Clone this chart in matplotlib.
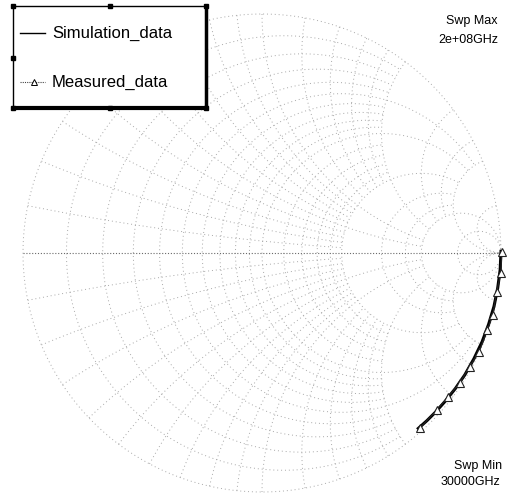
import numpy as np
import matplotlib
matplotlib.use("Agg")
import matplotlib.pyplot as plt
from matplotlib.patches import Rectangle
from matplotlib.lines import Line2D

plt.rcParams['font.family'] = ['Liberation Sans', 'DejaVu Sans']

# Reflection coefficient, polar form (magnitude, angle in degrees)
sim_mag = [1.000, 0.999, 0.997, 0.996, 0.994, 0.993, 0.991, 0.990, 0.988, 0.986, 0.985, 0.984, 0.983]
sim_ang = [0.4, -4.0, -8.5, -13.0, -17.5, -22.0, -26.5, -31.0, -35.0, -39.0, -42.5, -45.5, -48.3]

meas_mag = [1.003, 1.003, 0.995, 1.000, 0.996, 0.998, 0.990, 0.990, 0.984, 0.983, 0.986]
meas_ang = [0.3, -4.8, -9.4, -15.0, -18.9, -24.4, -28.7, -33.3, -37.7, -41.9, -47.9]

legend_labels = ["Simulation_data", "Measured_data"]
sweep_max = ["Swp Max", "2e+08GHz"]
sweep_min = ["Swp Min", "30000GHz"]

W, H = 512, 497
cx, cy, R = 262.0, 253.0, 239.0   # chart centre / radius in pixels

fig = plt.figure(figsize=(W / 100, H / 100), dpi=100)
ax = fig.add_axes([0, 0, 1, 1])
ax.set_xlim(-cx / R, (W - cx) / R)
ax.set_ylim(-(H - cy) / R, cy / R)
ax.axis('off')

GRID = dict(color='#a8a8a8', lw=0.7, linestyle=(0, (1, 3.0)), zorder=1)


def gamma(z):
    return (z - 1) / (z + 1)


def r_circle(r, xmax):
    if np.isinf(xmax):
        t = np.linspace(-np.pi / 2 + 1e-4, np.pi / 2 - 1e-4, 600)
    else:
        a = np.arctan(xmax)
        t = np.linspace(-a, a, 400)
    g = gamma(r + 1j * np.tan(t))
    ax.plot(g.real, g.imag, **GRID)


def x_arc(x, rmax):
    a = np.pi / 2 - 1e-4 if np.isinf(rmax) else np.arctan(rmax)
    t = np.linspace(0, a, 400)
    g = gamma(np.tan(t) + 1j * x)
    ax.plot(g.real, g.imag, **GRID)


# resistance circles
for r in [0.1, 0.2, 0.3, 0.4, 0.6, 0.7, 0.8, 0.9]:
    r_circle(r, 2.0)
for r in [1.2, 1.4, 1.6, 1.8]:
    r_circle(r, 2.0)
for r in [0.5, 1.0, 2.0, 3.0, 4.0]:
    r_circle(r, 5.0)
for r in [5.0, 10.0]:
    r_circle(r, np.inf)

# reactance arcs
for x in [0.1, 0.2, 0.3, 0.4, 0.6, 0.7, 0.8, 0.9, 1.2, 1.4, 1.6, 1.8]:
    x_arc(x, 2.0)
    x_arc(-x, 2.0)
for x in [0.5, 1.0, 2.0, 3.0, 4.0]:
    x_arc(x, 5.0)
    x_arc(-x, 5.0)
for x in [5.0, 10.0]:
    x_arc(x, np.inf)
    x_arc(-x, np.inf)

# outer circle and real axis
th = np.linspace(0, 2 * np.pi, 800)
ax.plot(np.cos(th), np.sin(th), **GRID)
ax.plot([-1, 1], [0, 0], color='#6a6a6a', lw=0.8, linestyle=(0, (1, 1.6)), zorder=1)

# data traces
gs = np.array(sim_mag) * np.exp(1j * np.deg2rad(sim_ang))
gm = np.array(meas_mag) * np.exp(1j * np.deg2rad(meas_ang))
ax.plot(gs.real, gs.imag, color='black', lw=2.2, zorder=3)
ax.plot(gm.real, gm.imag, color='#222222', lw=0.9, marker='^', markersize=5.5,
        markerfacecolor='white', markeredgecolor='#222222', markeredgewidth=0.8, zorder=4)

# overlay in pixel coordinates for legend and sweep labels
ov = fig.add_axes([0, 0, 1, 1])
ov.set_xlim(0, W)
ov.set_ylim(H, 0)
ov.axis('off')
ov.patch.set_alpha(0)

ov.add_patch(Rectangle((13, 6), 193, 102, facecolor='white', edgecolor='black', lw=1.0, zorder=5))
ov.plot([13, 206], [108, 108], color='black', lw=3.0, zorder=6, solid_capstyle='butt')
ov.plot([206, 206], [6, 108], color='black', lw=2.5, zorder=6, solid_capstyle='butt')
for hx, hy in [(13, 6), (110, 6), (206, 6), (13, 58), (13, 108), (206, 108), (110, 108)]:
    ov.plot(hx, hy, marker='s', markersize=3, color='black', zorder=7)

ov.add_line(Line2D([20, 45], [33, 33], color='black', lw=1.0, zorder=7))
ov.add_line(Line2D([20, 45], [82, 82], color='#444444', lw=0.8, linestyle=(0, (1, 1)), zorder=7))
ov.plot(34, 82, marker='^', markersize=5, markerfacecolor='white',
        markeredgecolor='black', markeredgewidth=0.7, zorder=8)
ov.text(52, 33, legend_labels[0], fontsize=12, va='center', ha='left', zorder=8)
ov.text(52, 82, legend_labels[1], fontsize=12, va='center', ha='left', zorder=8)

ov.text(498, 21, sweep_max[0], fontsize=9, ha='right', va='center')
ov.text(498, 40, sweep_max[1], fontsize=9, ha='right', va='center')
ov.text(502, 466, sweep_min[0], fontsize=9, ha='right', va='center')
ov.text(500, 482, sweep_min[1], fontsize=9, ha='right', va='center')

fig.savefig("out.png", dpi=100)
